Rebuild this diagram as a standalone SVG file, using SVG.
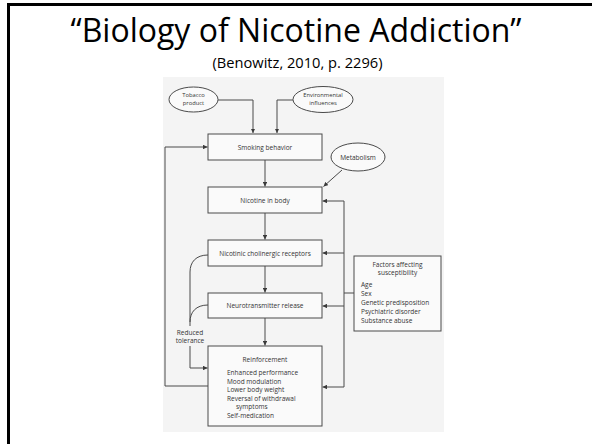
<svg xmlns="http://www.w3.org/2000/svg" width="592" height="444" viewBox="0 0 592 444">
<defs>
<marker id="ah" viewBox="0 0 6 6" refX="6" refY="3" markerWidth="4.5" markerHeight="4.5" orient="auto" markerUnits="userSpaceOnUse">
<path d="M0,0 L6,3 L0,6 z" fill="#3a3a3a"/>
</marker>
<style>
.bx{fill:#fafafa;stroke:#4a4a4a;stroke-width:1}
.el{fill:#fafafa;stroke:#4a4a4a;stroke-width:1}
.ln{fill:none;stroke:#4a4a4a;stroke-width:1}
.ar{fill:none;stroke:#4a4a4a;stroke-width:1;marker-end:url(#ah)}
.t{font-family:"Open Sans","Liberation Sans",sans-serif;font-size:6.5px;fill:#333}
.s{font-size:5.8px}
.c{text-anchor:middle}
</style>
</defs>
<rect x="0" y="0" width="592" height="444" fill="#ffffff"/>
<path d="M8.5,444 V4.5 H592" fill="none" stroke="#000" stroke-width="3"/>
<text x="296" y="41.5" text-anchor="middle" font-family="Open Sans, Liberation Sans, sans-serif" font-size="32" textLength="451" lengthAdjust="spacingAndGlyphs" fill="#000">“Biology of Nicotine Addiction”</text>
<text x="297.5" y="68.3" text-anchor="middle" font-family="Open Sans, Liberation Sans, sans-serif" font-size="14.5" textLength="170" lengthAdjust="spacingAndGlyphs" fill="#000">(Benowitz, 2010, p. 2296)</text>
<rect x="163" y="77" width="281" height="355" fill="#f4f4f4"/>
<g id="connectors">
<path class="ar" d="M218,100 H253 V133"/>
<path class="ar" d="M293,100 H277 V133"/>
<path class="ar" d="M342,170 L323.5,186.5"/>
<path class="ar" d="M265,160 V186.5"/>
<path class="ar" d="M265,213 V239.5"/>
<path class="ar" d="M265,266 V292.5"/>
<path class="ar" d="M265,318 V345.5"/>
<path class="ln" d="M344,201 V387"/>
<path class="ar" d="M344,201 H322.5"/>
<path class="ar" d="M344,253 H322.5"/>
<path class="ar" d="M344,306 H322.5"/>
<path class="ar" d="M344,387 H322.5"/>
<path class="ln" d="M354,293 H344"/>
<path class="ar" d="M208,386 H165 V147 H207.5"/>
<path class="ln" d="M208,255 C196,255 190,262 190,272 V326"/>
<path class="ln" d="M208,305 C196,305 190,312 190,322"/>
<path class="ar" d="M190,346 V368 H207.5"/>
</g>
<g id="tobacco"><ellipse class="el" cx="193.5" cy="99.5" rx="24.5" ry="12.5"/><text class="t s c" x="193.5" y="97">Tobacco</text><text class="t s c" x="193.5" y="105">product</text></g>
<g id="environmental"><ellipse class="el" cx="323" cy="99.5" rx="30" ry="13"/><text class="t s c" x="323" y="97">Environmental</text><text class="t s c" x="323" y="105">influences</text></g>
<g id="smoking"><rect class="bx" x="208" y="134" width="114" height="26"/><text class="t c" x="265" y="149.5">Smoking behavior</text></g>
<g id="metabolism"><ellipse class="el" cx="358" cy="157" rx="27" ry="14"/><text class="t c" x="358" y="159.5">Metabolism</text></g>
<g id="nicotine"><rect class="bx" x="208" y="187" width="114" height="26"/><text class="t c" x="265" y="202.5">Nicotine in body</text></g>
<g id="receptors"><rect class="bx" x="208" y="240" width="114" height="26"/><text class="t c" x="265" y="255.5">Nicotinic cholinergic receptors</text></g>
<g id="neuro"><rect class="bx" x="208" y="293" width="114" height="25"/><text class="t c" x="265" y="308">Neurotransmitter release</text></g>
<g id="reinforcement"><rect class="bx" x="208" y="346" width="114" height="80"/>
<text class="t c" x="265" y="362">Reinforcement</text>
<text class="t" x="227" y="375">Enhanced performance</text>
<text class="t" x="227" y="383.5">Mood modulation</text>
<text class="t" x="227" y="392">Lower body weight</text>
<text class="t" x="227" y="400.5">Reversal of withdrawal</text>
<text class="t" x="236" y="409">symptoms</text>
<text class="t" x="227" y="418">Self-medication</text>
</g>
<g id="factors"><rect class="bx" x="354" y="256" width="87" height="75"/>
<text class="t c" x="397.5" y="267">Factors affecting</text>
<text class="t c" x="397.5" y="275">susceptibility</text>
<text class="t" x="361" y="287">Age</text>
<text class="t" x="361" y="296">Sex</text>
<text class="t" x="361" y="305">Genetic predisposition</text>
<text class="t" x="361" y="314">Psychiatric disorder</text>
<text class="t" x="361" y="323">Substance abuse</text>
</g>
<g id="tolerance"><text class="t c" x="190" y="335">Reduced</text><text class="t c" x="190" y="343">tolerance</text></g>
</svg>
